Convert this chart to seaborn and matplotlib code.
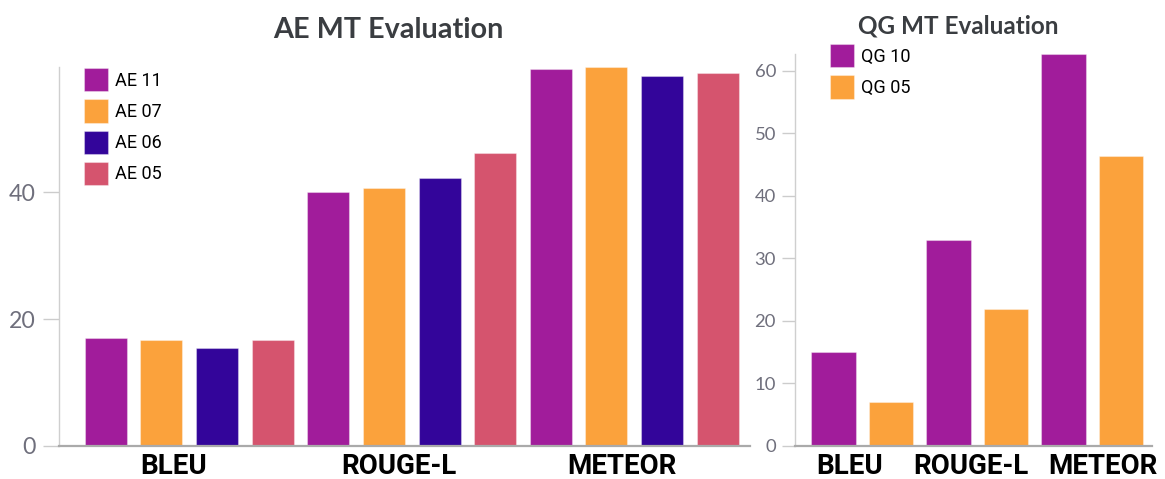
import matplotlib
matplotlib.use("Agg")
import matplotlib.pyplot as plt
import matplotlib.transforms as mtrans
import seaborn as sns
import pandas as pd

metrics = ["BLEU", "ROUGE-L", "METEOR"]

ae_models = ["AE 11", "AE 07", "AE 06", "AE 05"]
ae_11 = [17.0, 40.0, 59.4]
ae_07 = [16.7, 40.7, 59.75]
ae_06 = [15.4, 42.3, 58.4]
ae_05 = [16.7, 46.2, 58.75]

qg_models = ["QG 10", "QG 05"]
qg_10 = [15.05, 32.9, 62.7]
qg_05 = [7.03, 21.9, 46.4]

ae_ticks = [0, 20, 40]
qg_ticks = [0, 10, 20, 30, 40, 50, 60]

c_purple = "#a11c9b"
c_orange = "#fba23c"
c_indigo = "#33059a"
c_pink = "#d5546e"

sns.set_theme(style="white")
plt.rcParams["font.family"] = ["Roboto", "DejaVu Sans"]

ae_df = pd.DataFrame({
    "metric": metrics * 4,
    "model": sum([[m] * 3 for m in ae_models], []),
    "score": ae_11 + ae_07 + ae_06 + ae_05,
})
qg_df = pd.DataFrame({
    "metric": metrics * 2,
    "model": sum([[m] * 3 for m in qg_models], []),
    "score": qg_10 + qg_05,
})

W, H = 1165, 479
PT = 0.72  # px -> pt at 100 dpi
fig = plt.figure(figsize=(W / 100, H / 100), dpi=100)
ax1 = fig.add_axes([59 / W, 33 / H, (750 - 59) / W, (446 - 67) / H])
ax2 = fig.add_axes([795 / W, 33 / H, (1152 - 795) / W, (446 - 54) / H])

sns.barplot(data=ae_df, x="metric", y="score", hue="model", order=metrics,
            hue_order=ae_models,
            palette=[c_purple, c_orange, c_indigo, c_pink], saturation=1,
            width=1.0, gap=0.245, ax=ax1, edgecolor=(1, 1, 1, 0.35),
            linewidth=0.8, errorbar=None)
sns.barplot(data=qg_df, x="metric", y="score", hue="model", order=metrics,
            hue_order=qg_models, palette=[c_purple, c_orange], saturation=1,
            width=1.0, gap=0.232, ax=ax2, edgecolor=(1, 1, 1, 0.35),
            linewidth=0.8, errorbar=None)

tick_col = "#6f6f7c"
for ax, ticks, vals, tlen, tsize, pad in [
    (ax1, ae_ticks, ae_11 + ae_07 + ae_06 + ae_05, 16, 16.7, 7),
    (ax2, qg_ticks, qg_10 + qg_05, 13, 13.3, 6),
]:
    ax.set_xlim(-0.585, 2.52)
    ax.set_ylim(0, max(vals))
    ax.set_yticks(ticks)
    ax.set_yticklabels([str(t) for t in ticks], family=["Lato", "DejaVu Sans"],
                       fontsize=tsize, color=tick_col)
    ax.tick_params(axis="y", length=tlen * PT, width=1, color="#cccccc",
                   pad=pad * PT, left=True)
    ax.tick_params(axis="x", length=0, pad=5)
    for lab in ax.get_xticklabels():
        lab.set_fontsize(20)
        lab.set_fontweight("bold")
        lab.set_color("black")
        lab.set_family(["Roboto", "DejaVu Sans"])
    ax.set_xlabel("")
    ax.set_ylabel("")
    for s in ["top", "right"]:
        ax.spines[s].set_visible(False)
    ax.spines["left"].set_color("#cfcfcf")
    ax.spines["left"].set_linewidth(1)
    ax.spines["bottom"].set_color("#aaaaaa")
    ax.spines["bottom"].set_linewidth(1.6)
    ax.grid(False)

# tick label offsets (px)
for ax, offs in [(ax1, [-16, -13, -12]), (ax2, [-13, -6, 11])]:
    for lab, o in zip(ax.get_xticklabels(), offs):
        lab.set_transform(lab.get_transform() +
                          mtrans.ScaledTranslation(o / 100, 0, fig.dpi_scale_trans))

# legends
for ax, x0, y0 in [(ax1, 84, 68), (ax2, 830, 44)]:
    leg = ax.legend(loc="upper left", bbox_to_anchor=(x0 / W, 1 - y0 / H),
                    bbox_transform=fig.transFigure, frameon=False,
                    fontsize=13, handlelength=1.33, handleheight=1.617,
                    labelspacing=0.437, handletextpad=0.37, borderpad=0,
                    borderaxespad=0, title=None)
    for t in leg.get_texts():
        t.set_color("black")

fig.text(388.5 / W, 1 - 38.5 / H, "AE MT Evaluation", ha="center", va="baseline",
         fontsize=20.7, fontweight="bold", color="#3a3d41",
         family=["Lato", "DejaVu Sans"])
fig.text(958 / W, 1 - 33.3 / H, "QG MT Evaluation", ha="center", va="baseline",
         fontsize=17.5, fontweight="bold", color="#3a3d41",
         family=["Lato", "DejaVu Sans"])

fig.savefig("out.png", dpi=100)
